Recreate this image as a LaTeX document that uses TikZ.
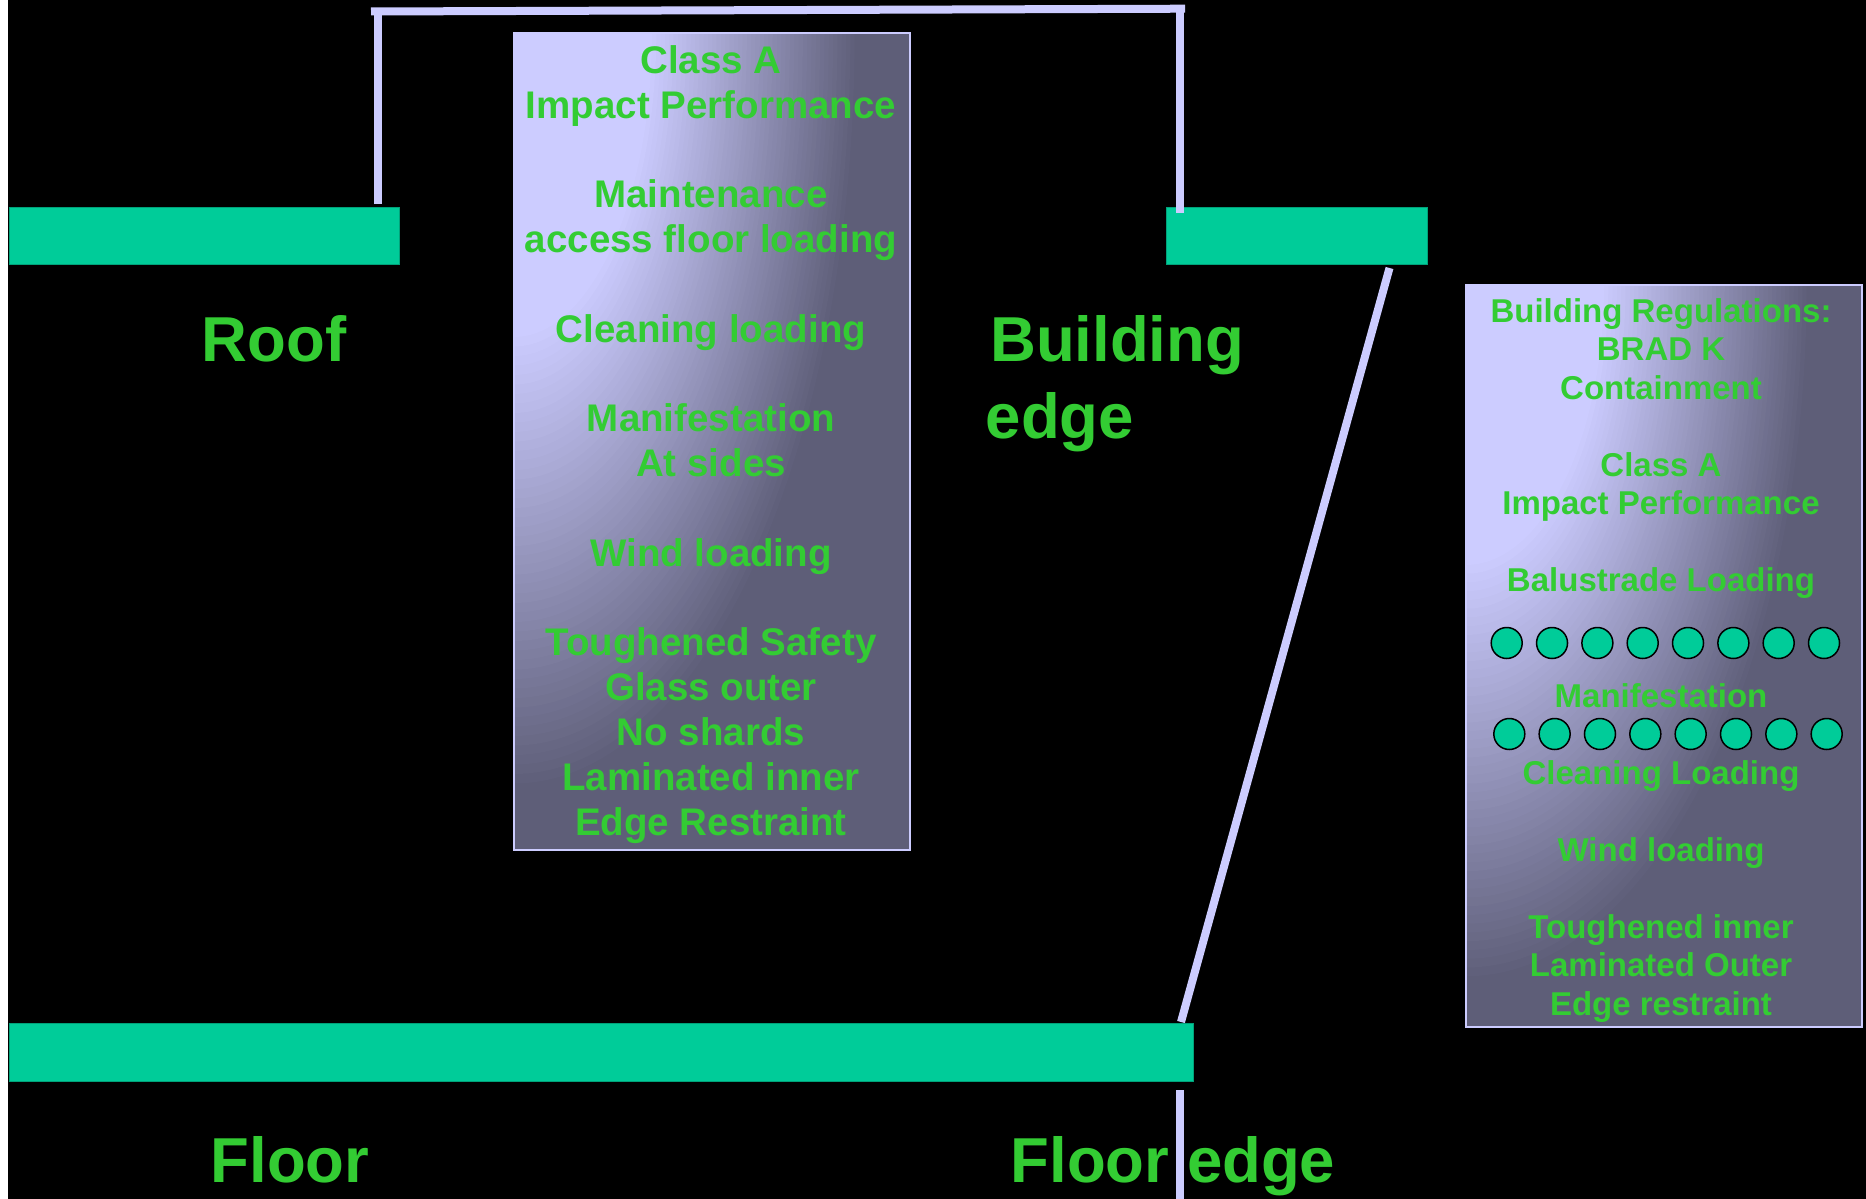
\documentclass[tikz,border=0pt]{standalone}
\usepackage{fontspec}
\setmainfont{Liberation Sans}
\definecolor{grn}{HTML}{33CC33}
\definecolor{slabc}{HTML}{00CC99}
\definecolor{slabedge}{HTML}{00A27A}
\definecolor{lav}{HTML}{CCCCFF}
\definecolor{dk}{HTML}{5E5E78}
\tikzset{
  slab/.style={draw=slabedge, line width=1pt, fill=slabc, anchor=north west, inner sep=0pt},
  glassbox/.style 2 args={draw=lav, line width=2pt, fill=dk, anchor=north west, inner sep=0pt,
    path picture={
      \foreach \s in {80,...,32} {
        \pgfmathsetmacro\pc{(\s-32)/48*100}
        \fill[dk!\pc!lav] (path picture bounding box.north west) ellipse [x radius={#1/80*\s}, y radius={#2/80*\s}];
      }
    }},
  rail/.style={draw=lav, line width=8pt},
  lbl/.style={text=grn, font=\fontsize{63.5}{77}\selectfont\bfseries, anchor=base west, inner sep=0pt},
  ctxt/.style={text=grn, font=\fontsize{38.5}{44}\selectfont\bfseries, anchor=base, inner sep=0pt},
  rtxt/.style={text=grn, font=\fontsize{33}{38}\selectfont\bfseries, anchor=base, inner sep=0pt},
  dot/.style={circle, draw=black, line width=1.5pt, fill=slabc, minimum size=31pt, inner sep=0pt}
}
\begin{document}
\begin{tikzpicture}[x=1pt,y=-1pt]
\fill[white] (0,0) rectangle (1866,1199);
\fill[black] (8,0) rectangle (1866,1199);
\useasboundingbox (0,0) rectangle (1866,1199);

% glass panels
\node[glassbox={345pt}{760pt}, minimum width=396pt, minimum height=817pt] (roofglass) at (513,32) {};
\node[glassbox={345pt}{700pt}, minimum width=396pt, minimum height=742pt] (balglass) at (1465,284) {};

% centre panel texts
\foreach \k/\t in {0/Class A, 1/Impact Performance, 3/Maintenance, 4/access floor loading,
  6/Cleaning loading, 8/Manifestation, 9/At sides, 11/Wind loading, 13/Toughened Safety,
  14/Glass outer, 15/No shards, 16/Laminated inner, 17/Edge Restraint}
  \node[ctxt] (c\k) at (711,73.5+44.8*\k) {\t};

% right panel texts
\foreach \k/\t in {0/Building Regulations:, 1/BRAD K, 2/Containment, 4/Class A,
  5/Impact Performance, 7/Balustrade Loading, 10/Manifestation, 12/Cleaning Loading,
  14/Wind loading, 16/Toughened inner, 17/Laminated Outer, 18/Edge restraint}
  \node[rtxt] (r\k) at (1661,322+38.5*\k) {\t};

% manifestation dots
\foreach \i in {0,...,7} {
  \node[dot] (ma\i) at (1506.7+45.33*\i,643) {};
  \node[dot] (mb\i) at (1509.3+45.34*\i,734) {};
}

% slabs
\node[slab, minimum width=390pt, minimum height=57pt] (roof) at (9,207) {};
\node[slab, minimum width=261pt, minimum height=57pt] (bedge) at (1166,207) {};
\node[slab, minimum width=1184pt, minimum height=58pt] (floor) at (9,1023) {};

% rails
\coordinate (rpL) at (378,204);
\coordinate (rtL) at (378,8);
\coordinate (hL) at (371,11.5);
\coordinate (hR) at (1185,8.7);
\coordinate (rtR) at (1180,9);
\coordinate (rpR) at (1180,213);
\coordinate (dT) at (1389.5,268);
\coordinate (dB) at (1181,1022);
\coordinate (feT) at (1180,1090);
\coordinate (feB) at (1180,1199);
\draw[rail] (rpL) -- (rtL);
\draw[rail] (hL) -- (hR);
\draw[rail] (rtR) -- (rpR);
\draw[rail] (dT) -- (dB);

% labels
\node[lbl] (lroof) at (201.5,361) {Roof};
\node[lbl] (lbuild) at (990,361) {Building};
\node[lbl] (ledge) at (985.5,438) {edge};
\node[lbl] (lfloor) at (210.5,1182) {Floor};
\node[lbl] (lfedge) at (1010.5,1182) {Floor edge};

\draw[rail] (feT) -- (feB);
\end{tikzpicture}
\end{document}
